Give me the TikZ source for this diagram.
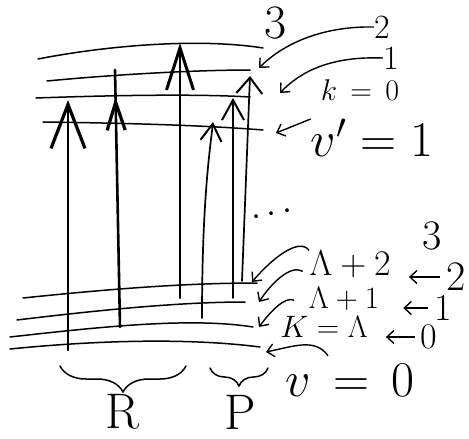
\RequirePackage{fix-cm}
\documentclass[tikz,border=0pt]{standalone}
\usepackage{amsmath}
\usetikzlibrary{arrows.meta,positioning,decorations.pathreplacing,decorations.markings}

\begin{document}
\begin{tikzpicture}[
  x=1pt, y=-1pt,
  level/.style={line width=1.5pt, line cap=round},
  rtrans/.style={line width=2.6pt, line cap=round},
  ptrans/.style={line width=1.7pt, line cap=round},
  lblarrow/.style={-{Straight Barb[length=7pt,width=13pt,line width=1.4pt]}, line width=1.4pt},
  digitlbl/.style={font=\fontsize{34}{38}\selectfont, inner sep=0pt},
  midlbl/.style={font=\fontsize{36}{40}\selectfont, inner sep=0pt},
  rdigit/.style={font=\fontsize{42}{46}\selectfont, inner sep=0pt},
  biglbl/.style={font=\fontsize{50}{58}\selectfont, inner sep=0pt},
  brc/.style={decorate, line width=1.5pt, line cap=round}
]
\useasboundingbox (0,0) rectangle (469,439);

% upper level v'=1
\draw[level] (38,59) .. controls (110,45) and (200,38) .. (263,48);
\draw[level] (47,81) .. controls (120,74) and (200,70) .. (250,70);
\draw[level] (36,98) .. controls (120,95) and (200,94) .. (250,97);
\draw[level] (43,122) .. controls (120,123) and (200,125) .. (263,130);

% lower level v=0
\draw[level] (23,298) .. controls (100,290) and (180,283) .. (257,283);
\draw[level] (17,320) .. controls (100,310) and (180,302) .. (245,302);
\draw[level] (10,337) .. controls (100,327) and (190,317) .. (253,327);
\draw[level] (10,349) .. controls (100,340) and (190,338) .. (260,347);

% transition end points
\coordinate (r1b) at (68,350);  \coordinate (r1t) at (68,100);
\coordinate (r2b) at (120,327); \coordinate (r2t) at (115,70);
\coordinate (r3b) at (180,298); \coordinate (r3t) at (180,43);
\coordinate (p0b) at (202,318); \coordinate (p0t) at (213,122);
\coordinate (p1b) at (233,298); \coordinate (p1t) at (233,98);
\coordinate (p2b) at (242,281); \coordinate (p2t) at (250,76);

% R branch
\draw[rtrans, -{Straight Barb[length=44pt,width=34pt,line width=3.2pt]}] (r1b) -- (r1t);
\draw[rtrans, postaction={decorate, decoration={markings,
  mark=at position 0.895 with {\arrow{Straight Barb[length=28pt,width=18pt,line width=3.2pt]}}}}]
  (r2b) -- (r2t);
\draw[rtrans, -{Straight Barb[length=42pt,width=27pt,line width=3pt]}] (r3b) -- (r3t);

% P branch
\draw[ptrans, -{Straight Barb[length=17pt,width=21pt,line width=2pt]}]
  (p0b) .. controls (202,200) and (210,150) .. (p0t);
\draw[ptrans, -{Straight Barb[length=20pt,width=22pt,line width=2pt]}] (p1b) -- (p1t);
\draw[ptrans, -{Straight Barb[length=16pt,width=26pt,line width=2pt]}] (p2b) -- (p2t);

% labels of the upper level
\node[font=\fontsize{48}{52}\selectfont, inner sep=0pt] (u3) at (276,23) {3};
\node[digitlbl] (u2) at (382,27) {2};
\node[digitlbl] (u1) at (391,58) {1};
\node[font=\fontsize{30}{34}\selectfont, inner sep=0pt] (k0) at (360,90) {$k\,=\,0$};
\node[biglbl] (vp) at (372,138) {$v'=1$};

\coordinate (tu2) at (259,68);
\coordinate (tu1) at (280,93);
\coordinate (tu0) at (276,133);
\draw[lblarrow] (u2.west) .. controls (325,26) and (285,42) .. (tu2);
\draw[lblarrow] (u1.west) .. controls (330,56) and (300,72) .. (tu1);
\draw[lblarrow] (vp.north west) -- (tu0);

% labels of the lower level
\node[midlbl] (lp2) at (350,264) {$\Lambda+2$};
\node[font=\fontsize{31}{34}\selectfont, inner sep=0pt] (lp1) at (344,299) {$\Lambda+1$};
\node[font=\fontsize{31}{34}\selectfont, inner sep=0pt] (kl) at (324,327) {$K=\Lambda$};
\node[biglbl] (v0) at (350,380) {$v\,=\,0$};

\coordinate (tl2) at (252,282);
\coordinate (tl1) at (259,302);
\coordinate (tl0) at (259,327);
\coordinate (tlv) at (266,352);
\draw[lblarrow] (lp2.north west) .. controls (300,238) and (275,255) .. (tl2);
\draw[lblarrow] ([xshift=-6pt,yshift=16pt]lp1.north west) .. controls (290,264) and (270,285) .. (tl1);
\draw[lblarrow] ([xshift=14pt,yshift=16pt]kl.north west) .. controls (285,296) and (270,312) .. (tl0);
\draw[lblarrow] ([xshift=-22pt,yshift=8pt]v0.north) .. controls (315,338) and (295,346) .. (tlv);

\node[rdigit] (d3) at (432,236) {3};
\node[rdigit] (d2) at (456,277) {2};
\node[font=\fontsize{38}{42}\selectfont, inner sep=0pt] (d1) at (443,308) {1};
\node[font=\fontsize{36}{40}\selectfont, inner sep=0pt] (d0) at (429,337) {0};
\draw[lblarrow, shorten <=6pt, shorten >=18pt] (d2.west) -- (lp2.east |- d2.west);
\draw[lblarrow, shorten <=6pt, shorten >=24pt] (d1.west) -- (lp1.east |- d1.west);
\draw[lblarrow, shorten <=6pt, shorten >=18pt] (d0.west) -- (kl.east |- d0.west);

\node[midlbl, rotate=12] (gap) at (275,214) {$\cdots$};

% branches
\draw[brc, decoration={brace, mirror, amplitude=26pt}] (60,366) -- (186,366);
\draw[brc, decoration={brace, mirror, amplitude=18pt}] (210,368) -- (268,368);
\node[biglbl] (rb) at (122,412) {R};
\node[biglbl] (pb) at (240,412) {P};
\end{tikzpicture}
\end{document}
